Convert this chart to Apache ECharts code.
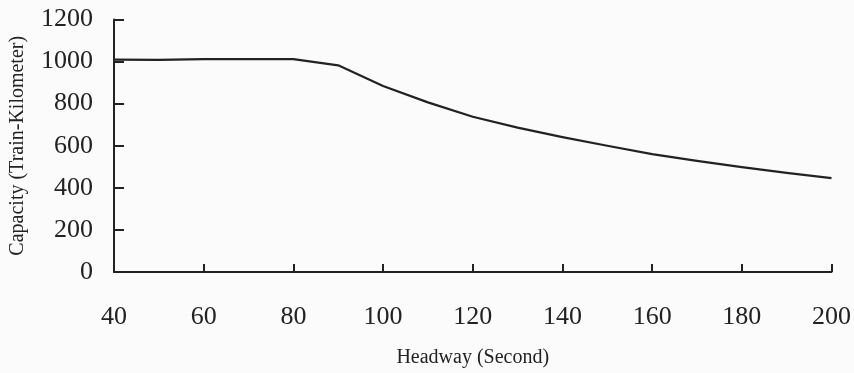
<!DOCTYPE html>
<html>
<head>
<meta charset="utf-8">
<script src="https://cdn.jsdelivr.net/npm/echarts@6/dist/echarts.min.js"></script>
<style>
html,body{margin:0;padding:0;background:#fbfbfc;}
#c{width:854px;height:373px;}
</style>
</head>
<body>
<div id="c"></div>
<script>
const headway = [40, 50, 60, 70, 80, 90, 100, 110, 120, 130, 140, 150, 160, 170, 180, 190, 200];
const capacity = [1009, 1008, 1012, 1012, 1012, 982, 884, 806, 738, 686, 641, 600, 560, 528, 498, 471, 446];
const xTicks = [40, 60, 80, 100, 120, 140, 160, 180, 200];
const yTicks = [0, 200, 400, 600, 800, 1000, 1200];

const font = '"Liberation Serif", "DejaVu Serif", serif';
const ink = '#222';
const chart = echarts.init(document.getElementById('c'));
chart.setOption({
  backgroundColor: '#fbfbfc',
  animation: false,
  grid: {left: 113, right: 21, top: 19.5, bottom: 98, containLabel: false},
  xAxis: {
    type: 'value', min: xTicks[0], max: xTicks[xTicks.length - 1], interval: 20,
    name: 'Headway (Second)', nameLocation: 'middle', nameGap: 76,
    nameTextStyle: {fontFamily: font, fontSize: 20, color: ink},
    axisLine: {show: true, lineStyle: {color: ink, width: 2}},
    axisTick: {show: true, inside: true, length: 8, lineStyle: {color: ink, width: 2}},
    axisLabel: {margin: 32, fontFamily: font, fontSize: 26, color: ink, formatter: v => String(v)},
    splitLine: {show: false}
  },
  yAxis: {
    type: 'value', min: yTicks[0], max: yTicks[yTicks.length - 1], interval: 200,
    name: 'Capacity (Train-Kilometer)', nameLocation: 'middle', nameGap: 86,
    nameTextStyle: {fontFamily: font, fontSize: 20, color: ink},
    axisLine: {show: true, lineStyle: {color: ink, width: 2}},
    axisTick: {show: true, inside: true, length: 10, lineStyle: {color: ink, width: 2}},
    axisLabel: {margin: 21, fontFamily: font, fontSize: 26, color: ink, formatter: v => String(v)},
    splitLine: {show: false}
  },
  series: [{
    type: 'line',
    data: headway.map((h, i) => [h, capacity[i]]),
    smooth: false,
    showSymbol: false,
    lineStyle: {color: ink, width: 2.2, join: 'round'}
  }]
});
</script>
</body>
</html>
